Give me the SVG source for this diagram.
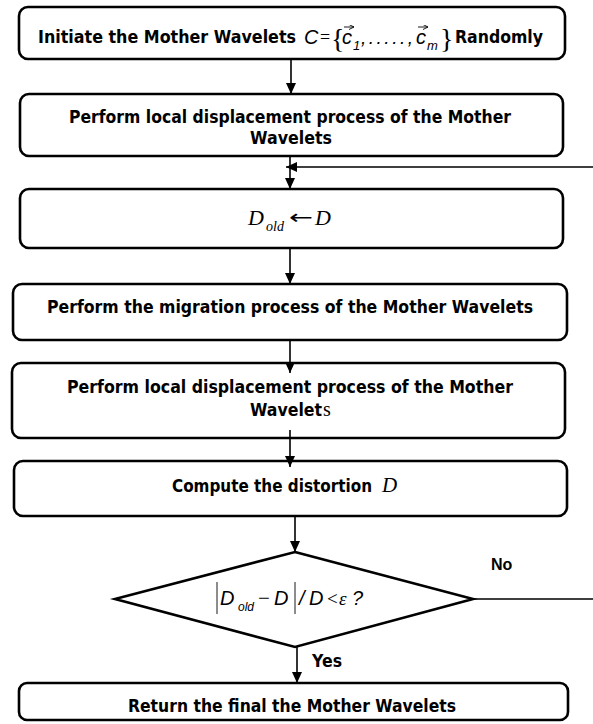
<svg xmlns="http://www.w3.org/2000/svg" width="593" height="724" viewBox="0 0 593 724">
  <defs>
    <marker id="arrow" markerUnits="userSpaceOnUse" markerWidth="11" markerHeight="10" refX="11" refY="5" orient="auto">
      <path d="M0,0 L11,5 L0,10 z" fill="#000"/>
    </marker>
    <marker id="vec" markerUnits="userSpaceOnUse" markerWidth="5" markerHeight="5" refX="5" refY="2.5" orient="auto">
      <path d="M0,0 L5,2.5 L0,5" fill="none" stroke="#000" stroke-width="0.9"/>
    </marker>
    <style>
      .box { fill: #fff; stroke: #000; stroke-width: 2.6; }
      .dia { fill: #fff; stroke: #000; stroke-width: 2.6; stroke-linejoin: miter; }
      .conn { fill: none; stroke: #000; stroke-width: 1.6; }
      .lbl { font-family: "DejaVu Sans", Verdana, sans-serif; font-weight: bold; font-size: 17px; fill: #000; }
      .mid { text-anchor: middle; }
      .mi { font-family: "Liberation Sans", Arial, sans-serif; font-style: italic; fill: #000; }
      .ms { font-family: "Liberation Serif", "Times New Roman", serif; fill: #000; }
      .tag { font-family: "Liberation Sans", Arial, sans-serif; font-weight: bold; font-size: 16px; fill: #000; }
      .vecbar { stroke: #000; stroke-width: 0.9; fill: none; }
    </style>
  </defs>

  <!-- step 1: initialisation -->
  <g id="init">
    <rect class="box" x="19" y="7" width="546" height="52" rx="9"/>
    <text class="lbl" x="38" y="43" textLength="258" lengthAdjust="spacingAndGlyphs">Initiate the Mother Wavelets</text>
    <text class="mi" x="304" y="44" font-size="20">C</text>
    <text class="ms" x="320" y="43" font-size="18">=</text>
    <text class="ms" x="331" y="48" font-size="28">{</text>
    <text class="mi" x="342" y="44" font-size="20">c</text>
    <text class="mi" x="353" y="50" font-size="13" font-style="normal">1</text>
    <text class="mi" x="361" y="44" font-size="19" font-style="normal" textLength="52" lengthAdjust="spacing">,.....,</text>
    <text class="mi" x="416" y="44" font-size="20">c</text>
    <text class="mi" x="427" y="50" font-size="13">m</text>
    <text class="ms" x="440" y="48" font-size="28">}</text>
    <path class="vecbar" d="M344 27 H354" marker-end="url(#vec)"/>
    <path class="vecbar" d="M418 27 H428" marker-end="url(#vec)"/>
    <text class="lbl" x="455" y="43" textLength="88" lengthAdjust="spacingAndGlyphs">Randomly</text>
  </g>

  <!-- step 2: local displacement -->
  <g id="local1">
    <rect class="box" x="20" y="94" width="543" height="62" rx="9"/>
    <text class="lbl mid" x="290" y="123" textLength="442" lengthAdjust="spacingAndGlyphs">Perform local displacement process of the Mother</text>
    <text class="lbl mid" x="291" y="144" textLength="82" lengthAdjust="spacingAndGlyphs">Wavelets</text>
  </g>

  <!-- step 3: store distortion -->
  <g id="store">
    <rect class="box" x="20" y="189" width="543" height="59" rx="9"/>
    <text class="ms" x="248" y="225" font-size="22" font-style="italic">D</text>
    <text class="ms" x="266" y="231" font-size="14" font-style="italic">old</text>
    <text x="289" y="224" font-family="DejaVu Sans, sans-serif" font-size="20" textLength="24" lengthAdjust="spacingAndGlyphs">←</text>
    <text class="ms" x="315" y="225" font-size="22" font-style="italic">D</text>
  </g>

  <!-- step 4: migration -->
  <g id="migration">
    <rect class="box" x="13" y="284" width="554" height="56" rx="9"/>
    <text class="lbl mid" x="290" y="313" textLength="486" lengthAdjust="spacingAndGlyphs">Perform the migration process of the Mother Wavelets</text>
  </g>

  <!-- step 5: local displacement again -->
  <g id="local2">
    <rect class="box" x="12" y="363" width="553" height="75" rx="9"/>
    <text class="lbl mid" x="290" y="393" textLength="446" lengthAdjust="spacingAndGlyphs">Perform local displacement process of the Mother</text>
    <text class="lbl" x="250" y="416" textLength="72" lengthAdjust="spacingAndGlyphs">Wavelet</text>
    <text class="ms" x="323" y="416" font-size="20">s</text>
  </g>

  <!-- step 6: distortion -->
  <g id="distortion">
    <rect class="box" x="14" y="461" width="553" height="55" rx="9"/>
    <text class="lbl" x="172" y="492" textLength="200" lengthAdjust="spacingAndGlyphs">Compute the distortion</text>
    <text class="ms" x="382" y="492" font-size="21" font-style="italic">D</text>
  </g>

  <!-- decision -->
  <g id="decision">
    <polygon class="dia" points="295,552 473,599 295,647 115,599"/>
    <path class="vecbar" d="M217 582 V614 M295 582 V614" stroke-width="1.1"/>
    <text class="mi" x="220" y="605" font-size="20">D</text>
    <text class="mi" x="238" y="611" font-size="12">old</text>
    <text class="ms" x="258" y="605" font-size="21">−</text>
    <text class="mi" x="274" y="605" font-size="20">D</text>
    <text class="mi" x="299" y="605" font-size="20">/</text>
    <text class="mi" x="309" y="605" font-size="20">D</text>
    <text class="ms" x="327" y="605" font-size="19">&lt;</text>
    <text class="ms" x="339" y="605" font-size="19" font-style="italic">ε</text>
    <text class="mi" x="352" y="605" font-size="20" font-style="normal">?</text>
  </g>

  <!-- branch labels -->
  <g id="labels">
    <text class="tag" x="491" y="570">No</text>
    <text class="lbl" x="312" y="667" textLength="30" lengthAdjust="spacingAndGlyphs">Yes</text>
  </g>

  <!-- final step -->
  <g id="result">
    <rect class="box" x="19" y="683" width="549" height="37" rx="8"/>
    <text class="lbl mid" x="292" y="712" textLength="328" lengthAdjust="spacingAndGlyphs">Return the final the Mother Wavelets</text>
  </g>

  <!-- connectors, drawn last so arrowheads that reach into a box stay visible -->
  <g id="connectors">
    <path class="conn" d="M291 59 V94" marker-end="url(#arrow)"/>
    <path class="conn" d="M290 156 V189" marker-end="url(#arrow)"/>
    <path class="conn" d="M473 599 H600 V167 H286" marker-end="url(#arrow)"/>
    <path class="conn" d="M290 248 V284" marker-end="url(#arrow)"/>
    <path class="conn" d="M290 340 V373" marker-end="url(#arrow)"/>
    <path class="conn" d="M290 430 V467" marker-end="url(#arrow)"/>
    <path class="conn" d="M295 516 V552" marker-end="url(#arrow)"/>
    <path class="conn" d="M297 647 V683" marker-end="url(#arrow)"/>
  </g>
</svg>
